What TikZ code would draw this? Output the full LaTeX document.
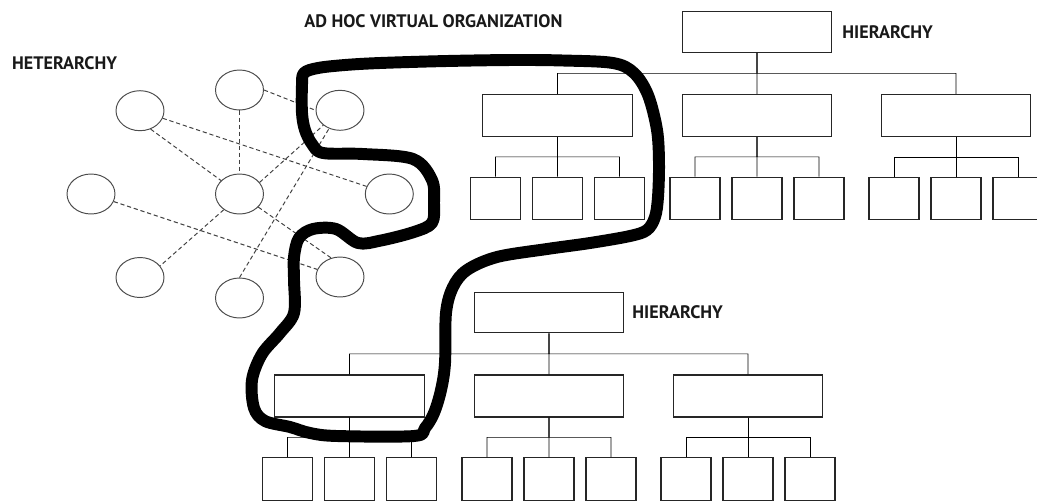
\documentclass[tikz,border=0pt]{standalone}
\usepackage{fontspec}
\setmainfont{PT Sans}
\usetikzlibrary{calc, positioning, shapes.geometric}

\tikzset{
  org/.style={draw=black!85, line width=0.7pt, rectangle, inner sep=0pt},
  headbox/.style={org, minimum width=2.98cm, minimum height=0.81cm},
  unitbox/.style={org, minimum width=2.99cm, minimum height=0.84cm},
  leafbox/.style={org, minimum width=1cm, minimum height=0.85cm},
  orgline/.style={draw=black!85, line width=0.7pt,
    to path={(\tikztostart) -- ($(\tikztostart)!.5!(\tikztostart |- \tikztotarget)$) -| (\tikztotarget)}},
  agent/.style={ellipse, draw=black!70, line width=0.55pt, minimum width=0.96cm, minimum height=0.8cm, inner sep=0pt},
  link/.style={draw=black!75, line width=0.55pt, dash pattern=on 2.4pt off 1.6pt},
  heading/.style={font=\fontsize{10.3}{12}\selectfont\bfseries, anchor=west, inner sep=0pt, text=black!90},
  blob/.style={line width=6.8pt, line join=round, line cap=round}
}

\begin{document}
\begin{tikzpicture}[x=0.02cm, y=-0.02cm]
        \useasboundingbox (0,0) rectangle (1037,501);

        % the two hierarchies
        \foreach \h/\x/\y in {t/757/0, b/549/280.5} {
            \node[headbox] (\h) at (\x, 32+\y) {};
            \foreach \u/\dx in {1/-199.5, 2/0, 3/199} {
                \node[unitbox] (\h\u) at (\x+\dx, 115.5+\y) {};
                \draw (\h.south) to[orgline] (\h\u.north);
                \foreach \l/\lx in {1/-62, 2/0, 3/62} {
                    \node[leafbox] (\h\u\l) at (\x+\dx+\lx, 198.5+\y) {};
                    \draw (\h\u.south) to[orgline] (\h\u\l.north);
                }
            }
        }

        % heterarchy
        \node[agent] (n1) at (140,110.7) {};
        \node[agent] (n2) at (239.5,90) {};
        \node[agent] (n3) at (91,194) {};
        \node[agent] (n4) at (239.5,194) {};
        \node[agent] (n5) at (140,277.5) {};
        \node[agent] (n6) at (239.5,298) {};
        \node[agent] (n7) at (340,110.3) {};
        \node[agent] (n8) at (389.3,194) {};
        \node[agent] (n9) at (340,277) {};

        \draw[link] (n1.300) -- (n4);
        \draw[link] (n1) -- (n8);
        \draw[link] (n2) -- (n4);
        \draw[link] (n2.east) -- (n7.west);
        \draw[link] (n3) -- (n9);
        \draw[link] (n4.225) -- (n5.30);
        \draw[link] (n4.30) -- (n7);
        \draw[link] (n4) -- (n9.115);
        \draw[link] (n6.north) -- (n7);

        % labels
        \node[heading] (title) at (304,20.7) {AD HOC VIRTUAL ORGANIZATION};
        \node[heading] (het) at (11.7,62.7) {HETERARCHY};
        \node[heading, right=0.2cm of t] (hiert) {HIERARCHY};
        \node[heading, right=0.16cm of b] (hierb) {HIERARCHY};

        % ad hoc virtual organization
        \draw[blob] plot[smooth cycle, tension=0.55] coordinates {
            (304,73) (318,68) (345,65) (380,63) (447,61) (513,60) (563,60.5)
            (613,63) (634,73) (648,95) (657,130) (659,163) (658,197) (655,217)
            (647,230) (630,236) (590,243) (547,249) (497,257) (467,270) (453,287)
            (446,313) (445,363) (441,390) (434,413) (425,428) (414,436) (337,436)
            (310,433) (290,427) (265,421) (254,408) (252,380) (262,354) (280,333)
            (294,313) (294,280) (294,257) (299,238) (313,229) (336,229)
            (358,243) (380,240.7) (413,232.3) (432,223) (434,203) (432,180)
            (413,159) (363,154) (323,153) (312,144) (305,130) (302,113) (302,85)};
    \end{tikzpicture}
\end{document}
